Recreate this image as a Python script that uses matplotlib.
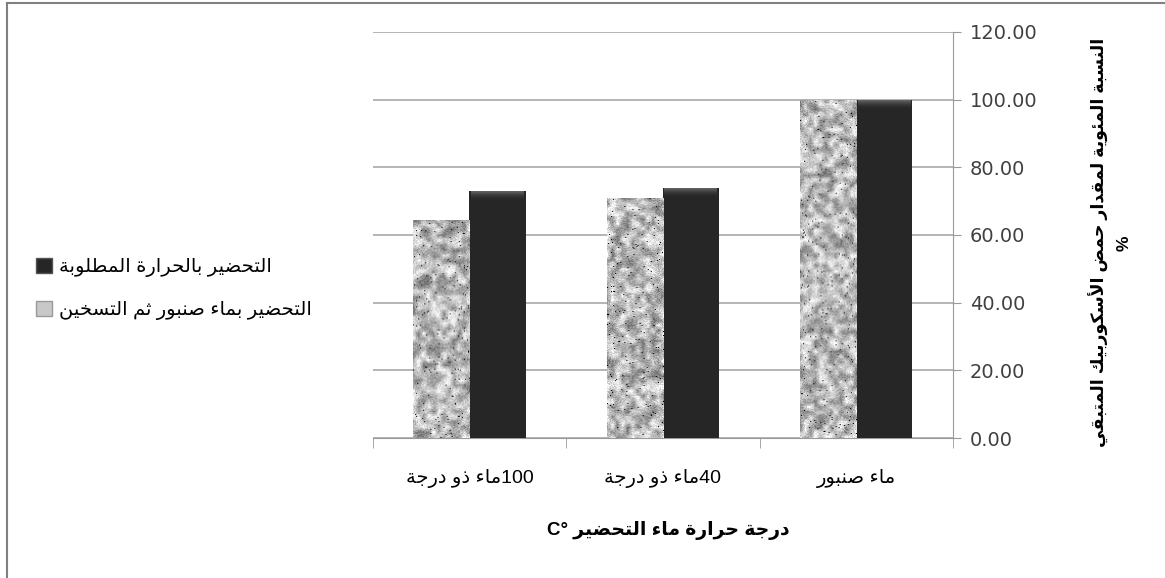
import re
import numpy as np
import matplotlib
matplotlib.use('Agg')
import matplotlib.pyplot as plt
from matplotlib.patches import Patch
from matplotlib.lines import Line2D
from matplotlib.colors import LinearSegmentedColormap

# ---- data ----
categories = ['ماء صنبور', '40ماء ذو درجة', '100ماء ذو درجة']
series_names = ['التحضير بالحرارة المطلوبة', 'التحضير بماء صنبور ثم التسخين']
heated_first = [100.0, 73.8, 73.1]      # dark bars
tap_then_heat = [100.0, 70.8, 64.4]     # speckled bars
y_ticks = [0, 20, 40, 60, 80, 100, 120]
x_title = 'درجة حرارة ماء التحضير °C'
y_title = 'النسبة المئوية لمقدار حمض الأسكوربيك المتبقي\n%'


# ---- minimal arabic shaping (presentation forms + right-to-left order) ----
# letter -> (isolated form codepoint, joining type)
FORMS = {}
for ch, cp in [('ئ', 0xFE89), ('ب', 0xFE8F), ('ت', 0xFE95), ('ث', 0xFE99),
               ('ج', 0xFE9D), ('ح', 0xFEA1), ('خ', 0xFEA5), ('س', 0xFEB1),
               ('ش', 0xFEB5), ('ص', 0xFEB9), ('ض', 0xFEBD), ('ط', 0xFEC1),
               ('ظ', 0xFEC5), ('ع', 0xFEC9), ('غ', 0xFECD), ('ف', 0xFED1),
               ('ق', 0xFED5), ('ك', 0xFED9), ('ل', 0xFEDD), ('م', 0xFEE1),
               ('ن', 0xFEE5), ('ه', 0xFEE9), ('ي', 0xFEF1)]:
    FORMS[ch] = (cp, 'D')
for ch, cp in [('آ', 0xFE81), ('أ', 0xFE83), ('ؤ', 0xFE85), ('إ', 0xFE87),
               ('ا', 0xFE8D), ('ة', 0xFE93), ('د', 0xFEA9), ('ذ', 0xFEAB),
               ('ر', 0xFEAD), ('ز', 0xFEAF), ('و', 0xFEED), ('ى', 0xFEEF)]:
    FORMS[ch] = (cp, 'R')
FORMS['ء'] = (0xFE80, 'U')
LAM_ALEF = {'آ': 0xFEF5, 'أ': 0xFEF7, 'إ': 0xFEF9, 'ا': 0xFEFB}


def shape(text):
    out = []
    prev = None
    i = 0
    while i < len(text):
        c = text[i]
        nxt = text[i + 1] if i + 1 < len(text) else ''
        link_prev = prev in FORMS and FORMS[prev][1] == 'D'
        if c == 'ل' and nxt in LAM_ALEF:
            out.append(chr(LAM_ALEF[nxt] + (1 if link_prev else 0)))
            prev = nxt
            i += 2
            continue
        if c not in FORMS:
            out.append(c)
            prev = None
            i += 1
            continue
        base, kind = FORMS[c]
        link_next = kind == 'D' and nxt in FORMS and FORMS[nxt][1] in ('D', 'R')
        if kind == 'U':
            cp = base
        elif kind == 'R':
            cp = base + (1 if link_prev else 0)
        else:
            if link_prev and link_next:
                cp = base + 3
            elif link_prev:
                cp = base + 1
            elif link_next:
                cp = base + 2
            else:
                cp = base
        out.append(chr(cp))
        prev = c
        i += 1
    return ''.join(out)


def ar(text):
    lines = []
    for line in text.split('\n'):
        runs = re.findall(r'[0-9A-Za-z.]+|.', shape(line))
        lines.append(''.join(reversed(runs)))
    return '\n'.join(lines)


AR_FONT = ['Liberation Sans', 'DejaVu Sans']

fig = plt.figure(figsize=(11.65, 5.78), dpi=100)
ax = fig.add_axes([0.320, 0.242, 0.498, 0.703])

# x axis runs right-to-left, so +w/2 lands on the left side of each group
x = np.arange(len(categories))
w = 0.29
light_bars = ax.bar(x + w / 2, tap_then_heat, w, color='#d0d0d0', zorder=3)
dark_bars = ax.bar(x - w / 2, heated_first, w, color='#262626', zorder=3)

# speckled granite fill for the light bars
rng = np.random.default_rng(7)
for bar in light_bars:
    h_px = int(bar.get_height() * 3.4)
    coarse = rng.random((max(h_px // 5, 4), 12))
    fine = rng.random((h_px, 56))
    rows = np.linspace(0, coarse.shape[0] - 1, h_px)
    cols = np.linspace(0, coarse.shape[1] - 1, 56)
    r0 = np.floor(rows).astype(int); c0 = np.floor(cols).astype(int)
    r1 = np.minimum(r0 + 1, coarse.shape[0] - 1); c1 = np.minimum(c0 + 1, coarse.shape[1] - 1)
    fr = (rows - r0)[:, None]; fc = (cols - c0)[None, :]
    smooth = (coarse[r0][:, c0] * (1 - fr) * (1 - fc) + coarse[r1][:, c0] * fr * (1 - fc)
              + coarse[r0][:, c1] * (1 - fr) * fc + coarse[r1][:, c1] * fr * fc)
    tex = 0.7 * smooth + 0.3 * fine
    tex[rng.random(tex.shape) < 0.012] = -0.5
    bx, by = bar.get_x(), bar.get_y()
    im = ax.imshow(tex, cmap='gray', vmin=-0.45, vmax=0.85, aspect='auto',
                   extent=(bx, bx + bar.get_width(), by, by + bar.get_height()),
                   interpolation='bilinear', zorder=4)
    im.set_clip_path(bar)

# bevel highlight on top of the dark bars
bevel = LinearSegmentedColormap.from_list('bevel', ['#262626', '#666666'])
grad = np.linspace(0, 1, 50).reshape(-1, 1) ** 2
for bar in dark_bars:
    bx, top = bar.get_x(), bar.get_height()
    im = ax.imshow(grad, cmap=bevel, vmin=0, vmax=1, aspect='auto',
                   extent=(bx + 0.008, bx + bar.get_width() - 0.008, top - 3.0, top - 0.2),
                   origin='lower', zorder=4)
    im.set_clip_path(bar)

ax.set_xlim(-0.5, len(categories) - 0.5)
ax.set_ylim(0, 120)
ax.invert_xaxis()

ax.yaxis.tick_right()
ax.set_yticks(y_ticks)
ax.set_yticklabels([f'{v:.2f}' for v in y_ticks], fontsize=14, color='#404040',
                   family='DejaVu Sans')
ax.tick_params(axis='y', length=6, color='#9a9a9a', pad=6)
ax.grid(axis='y', color='#a8a8a8', linewidth=1.2, zorder=0)

ax.set_xticks(x)
ax.set_xticklabels([ar(c) for c in categories], fontsize=14, family=AR_FONT)
ax.set_xticks(np.arange(len(categories) + 1) - 0.5, minor=True)
ax.tick_params(axis='x', which='major', length=0, pad=22)
ax.tick_params(axis='x', which='minor', length=7, color='#9a9a9a')

for side in ['top', 'left']:
    ax.spines[side].set_visible(False)
ax.spines['right'].set_color('#9a9a9a')
ax.spines['bottom'].set_color('#9a9a9a')

fig.text(0.574, 0.083, ar(x_title), ha='center', va='center', fontsize=13.5,
         fontweight='bold', family=AR_FONT)
fig.text(0.953, 0.580, ar(y_title), ha='center', va='center', rotation=90,
         fontsize=12.5, fontweight='bold', family=AR_FONT, linespacing=1.6)

handles = [Patch(facecolor='#262626', edgecolor='#555555'),
           Patch(facecolor='#c8c8c8', edgecolor='#999999')]
fig.legend(handles, [ar(s) for s in series_names], loc='center left',
           bbox_to_anchor=(0.016, 0.50), frameon=False, prop={'family': AR_FONT, 'size': 14},
           handlelength=0.8, handleheight=0.8, handletextpad=0.4, labelspacing=1.2)

# outer chart frame
fig.add_artist(Line2D([0.006, 0.006], [0.0, 0.995], color='#808080', lw=1.5))
fig.add_artist(Line2D([0.006, 1.0], [0.995, 0.995], color='#808080', lw=1.5))

fig.savefig('out.png', dpi=100)
